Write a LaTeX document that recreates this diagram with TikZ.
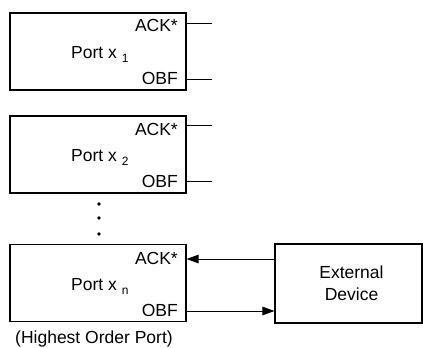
\documentclass[tikz,border=0pt]{standalone}
\usepackage{fontspec}
\setmainfont{Liberation Sans}
\usetikzlibrary{arrows.meta}
\begin{document}
\begin{tikzpicture}[x=1pt,y=-1pt,
  portbox/.style={draw,line width=1.1pt,minimum width=176pt,minimum height=77pt,inner sep=0pt},
  devbox/.style={draw,line width=1.1pt,minimum width=147pt,minimum height=79pt,inner sep=0pt},
  txt/.style={font=\fontsize{17.5}{22}\selectfont,inner sep=0pt},
  sig/.style={txt,anchor=base east},
  lab/.style={txt,anchor=base west},
  wire/.style={line width=1pt},
  arr/.style={line width=1pt,-{Triangle[length=12pt,width=8.5pt]}},
  dot/.style={circle,fill,inner sep=0pt,minimum size=3.6pt}]
\useasboundingbox (0,0) rectangle (423,348);
\newcommand{\portlabel}[1]{Port x\hspace{5pt}\raisebox{-4pt}{\fontsize{12}{12}\selectfont #1}}
% boxes
\node[portbox] (p1) at (98,51.5) {};
\node[portbox] (p2) at (98,154.5) {};
\node[portbox] (pn) at (98,283) {};
\node[devbox] (dev) at (348.5,283.5) {};
\node[txt,align=center] (devtxt) at (351.5,283.5) {External\\Device};
% labels
\node[lab] (l1) at (71,58) {\portlabel{1}};
\node[lab] (l2) at (71,161) {\portlabel{2}};
\node[lab] (ln) at (71,290) {\portlabel{n}};
\node[sig] (a1) at (178,31.5) {ACK*};
\node[sig] (o1) at (178,84) {OBF};
\node[sig] (a2) at (178,135) {ACK*};
\node[sig] (o2) at (178,187) {OBF};
\node[sig] (an) at (178,264) {ACK*};
\node[sig] (on) at (178,316) {OBF};
\node[lab] (cap) at (15,343) {(Highest Order Port)};
% free wire ends
\coordinate (e1a) at (212,23);
\coordinate (e1o) at (212,79);
\coordinate (e2a) at (212,125);
\coordinate (e2o) at (212,181);
\draw[wire] (p1.east |- e1a) -- (e1a);
\draw[wire] (p1.east |- e1o) -- (e1o);
\draw[wire] (p2.east |- e2a) -- (e2a);
\draw[wire] (p2.east |- e2o) -- (e2o);
% arrows
\coordinate (ya) at (0,259);
\coordinate (yo) at (0,311);
\draw[arr] (dev.west |- ya) -- (pn.east |- ya);
\draw[arr] (pn.east |- yo) -- (dev.west |- yo);
% dots
\node[dot] (d1) at (99,204) {};
\node[dot] (d2) at (99,218) {};
\node[dot] (d3) at (99,234) {};
\end{tikzpicture}
\end{document}
